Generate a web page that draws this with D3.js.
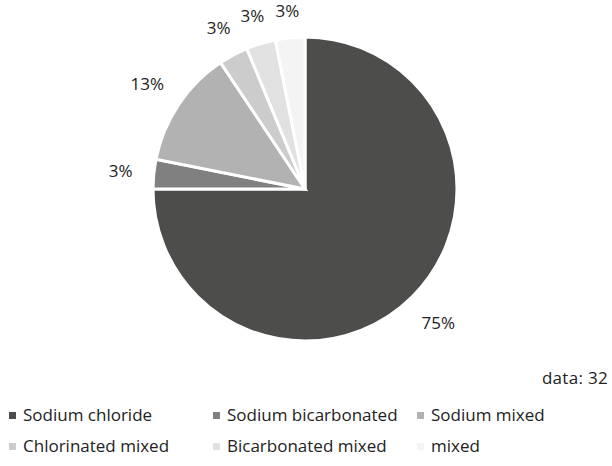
<!DOCTYPE html>
<html>
<head>
<meta charset="utf-8">
<script src="https://cdn.jsdelivr.net/npm/d3@7"></script>
<style>
  html, body { margin: 0; padding: 0; background: #fff; }
  svg text { font-family: "Open Sans", "Noto Sans", sans-serif; fill: #222; }
</style>
</head>
<body>
<svg id="chart" width="612" height="466"></svg>
<script>
// Water type composition (count of samples)
const categories = ["Sodium chloride", "Sodium bicarbonated", "Sodium mixed",
                    "Chlorinated mixed", "Bicarbonated mixed", "mixed"];
const counts = [24, 1, 4, 1, 1, 1];
const colors = ["#4d4d4c", "#808080", "#b1b2b1", "#cbcccb", "#e1e1e1", "#f4f4f4"];
const totalLabel = "data: 32";

const svg = d3.select("#chart");
const cx = 305, cy = 189, r = 152;
const total = d3.sum(counts);

const data = categories.map((c, i) => ({ name: c, value: counts[i], color: colors[i] }));

const pie = d3.pie().value(d => d.value).sort(null);
const arc = d3.arc().innerRadius(0).outerRadius(r);
const arcs = pie(data);

const g = svg.append("g").attr("transform", `translate(${cx},${cy})`);

g.selectAll("path.slice")
  .data(arcs)
  .join("path")
  .attr("class", "slice")
  .attr("d", arc)
  .attr("fill", d => d.data.color)
  .attr("stroke", "#fff")
  .attr("stroke-width", 3)
  .attr("stroke-linejoin", "miter");

// Percentage labels placed just outside the rim, pushed out by their own extent
const fmt = v => Math.round(v / total * 100) + "%";
g.selectAll("text.pct")
  .data(arcs)
  .join("text")
  .attr("class", "pct")
  .attr("font-size", 17)
  .attr("text-anchor", "middle")
  .attr("dominant-baseline", "central")
  .text(d => fmt(d.data.value))
  .each(function(d) {
    const a = (d.startAngle + d.endAngle) / 2;
    const sx = Math.sin(a), cy2 = -Math.cos(a);
    const w = this.getComputedTextLength();
    const h = 10;
    const ext = Math.abs(sx) * w / 2 + Math.abs(cy2) * h / 2;
    const rr = r + 21 + ext;
    d3.select(this).attr("x", sx * rr).attr("y", cy2 * rr);
  });

// Sample count note
svg.append("text")
  .attr("x", 608).attr("y", 384)
  .attr("text-anchor", "end")
  .attr("font-size", 17)
  .attr("letter-spacing", 0.3)
  .text(totalLabel);

// Legend: three per row, each starting at its column or after the previous entry
const legend = svg.append("g");
const colW = 204, x0 = 9, rowY = [414, 445], perRow = 3;
let prevEnd = 0;
data.forEach((d, i) => {
  const row = Math.floor(i / perRow), col = i % perRow;
  if (col === 0) prevEnd = 0;
  const x = Math.max(x0 + col * colW, prevEnd + 8);
  const item = legend.append("g").attr("transform", `translate(${x},${rowY[row]})`);
  item.append("rect")
    .attr("x", 0).attr("y", -2).attr("width", 7).attr("height", 7)
    .attr("fill", d.color);
  const t = item.append("text")
    .attr("x", 14).attr("y", 0)
    .attr("dominant-baseline", "central")
    .attr("font-size", 17)
    .text(d.name);
  prevEnd = x + 14 + t.node().getComputedTextLength();
});
</script>
</body>
</html>
